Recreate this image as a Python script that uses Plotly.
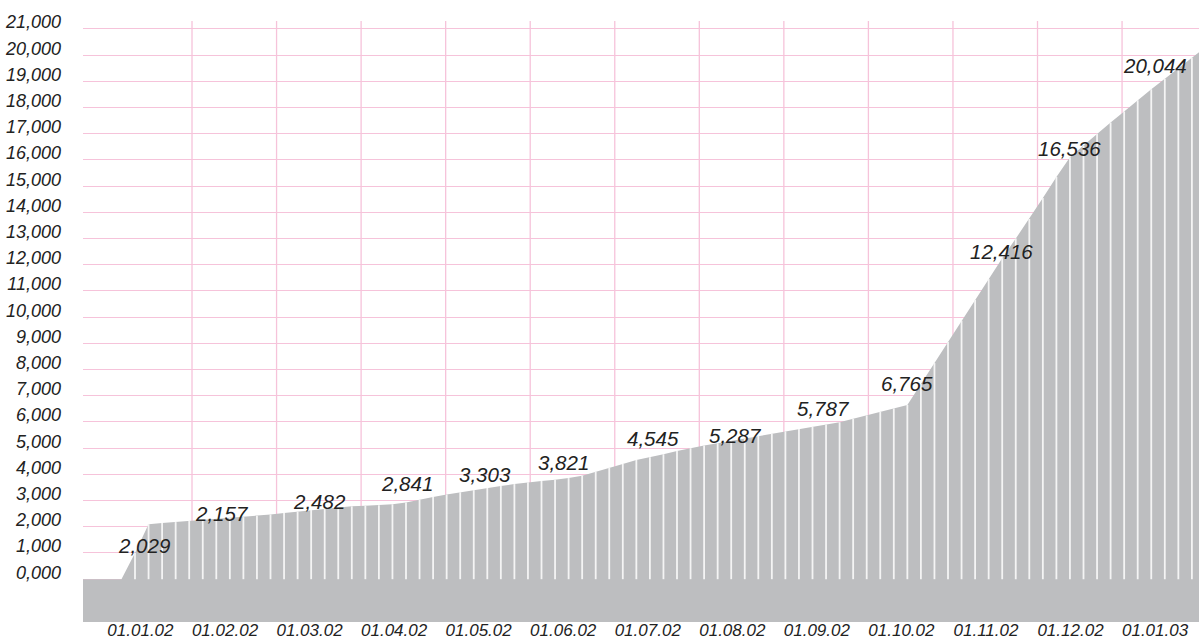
import plotly.graph_objects as go

# ---- data ----
# samples along the year (index of the striped bars); values in units
SAMPLE_IDX = list(range(-3, 81))
SAMPLE_VAL = [
    0, 0, 0, 0,            # i=-3..0
    1000, 2100, 2140, 2180, 2220, 2260, 2300, 2330, 2370,          # 1..9
    2420, 2470, 2530, 2580, 2640, 2700, 2750, 2780, 2800, 2820,    # 10..19
    2860, 2930, 3040, 3140, 3230, 3320, 3400, 3480, 3560, 3630,    # 20..29
    3700, 3750, 3800, 3860, 3950, 4110, 4260, 4400, 4550, 4650,    # 30..39
    4770, 4890, 5000, 5100, 5190, 5280, 5380, 5470, 5550, 5640,    # 40..49
    5730, 5820, 5900, 5990, 6120, 6250, 6390, 6520, 6650, 7450,    # 50..59
    8250, 9050, 9860, 10660, 11460, 12250, 13000, 13750, 14550, 15350,  # 60..69
    16100, 16550, 17000, 17430, 17850, 18280, 18700, 19100, 19500, 19900,  # 70..79
    20300,                 # 80
]

MONTH_LABELS = ["01.01.02", "01.02.02", "01.03.02", "01.04.02", "01.05.02",
                "01.06.02", "01.07.02", "01.08.02", "01.09.02", "01.10.02",
                "01.11.02", "01.12.02", "01.01.03"]
MONTH_VALUES = [2029, 2157, 2482, 2841, 3303, 3821, 4545, 5287, 5787, 6765,
                12416, 16536, 20044]

Y_TICKS = list(range(0, 22000, 1000))
Y_TICKTEXT = [f"{v // 1000},000" for v in Y_TICKS]

# ---- layout helpers ----
MONTH0 = -1.0332      # position of month 0 in sample-index units
MONTH_STEP = 6.2399   # samples per month
month_pos = [MONTH0 + MONTH_STEP * m for m in range(len(MONTH_LABELS))]

LABEL_DX = [37, 30, 43, 46, 39, 33, 38, 36, 40, 39, 49, 32, 33]
LABEL_DY = [-19, 9, 13, 21, 18, 17, 22, 5, 19, 18, 2, -3, -11]

GRAY = "#bdbec0"
PINK = "#f6c3da"
TEXT = "#222222"
FONT = "Liberation Sans"

fig = go.Figure()

# gray area (extends below zero to the bottom of the plot)
fig.add_trace(go.Scatter(
    x=SAMPLE_IDX + [SAMPLE_IDX[-1], SAMPLE_IDX[0]],
    y=SAMPLE_VAL + [-5000, -5000],
    fill="toself", fillcolor=GRAY, mode="lines",
    line=dict(width=0, color=GRAY), hoverinfo="skip", showlegend=False,
))

# white stripes between bars
sx, sy = [], []
for i, v in zip(SAMPLE_IDX, SAMPLE_VAL):
    if v > 0:
        sx += [i, i, None]
        sy += [0, v, None]
fig.add_trace(go.Scatter(
    x=sx, y=sy, mode="lines", line=dict(color="#f4f4f4", width=1.8),
    hoverinfo="skip", showlegend=False,
))

# vertical month gridlines
for m in range(1, len(MONTH_LABELS)):
    fig.add_shape(type="line", xref="x", yref="paper",
                  x0=month_pos[m], x1=month_pos[m], y0=0, y1=1,
                  line=dict(color=PINK, width=1.3), layer="below")

# value labels
for m, v in enumerate(MONTH_VALUES):
    fig.add_annotation(x=month_pos[m], y=v, text=f"{v:,}", showarrow=False,
                       xshift=LABEL_DX[m], yshift=LABEL_DY[m],
                       font=dict(family=FONT, size=20.5, color=TEXT, style="italic"))

fig.update_layout(
    width=1199, height=639,
    margin=dict(l=83, r=0, t=21, b=17),
    paper_bgcolor="white", plot_bgcolor="white",
    showlegend=False,
    xaxis=dict(range=[-2.838, 79.524], showgrid=False, zeroline=False,
               tickvals=month_pos, ticktext=MONTH_LABELS, ticks="",
               ticklabelshift=33, ticklabelstandoff=-4, automargin=False,
               tickfont=dict(family=FONT, size=17, color=TEXT, style="italic"),
               showline=False, fixedrange=True),
    yaxis=dict(range=[-1634, 21305], tickvals=Y_TICKS, ticktext=Y_TICKTEXT,
               showgrid=True, gridcolor=PINK, gridwidth=1.3, zeroline=False,
               ticks="", ticklabelshift=-7, ticklabelstandoff=21,
               automargin=False,
               tickfont=dict(family=FONT, size=18, color=TEXT, style="italic"),
               showline=False, fixedrange=True),
)

fig.write_html(
    "out.html",
    config={"displayModeBar": False},
    post_script="document.body.style.margin='0px';document.body.style.overflow='hidden';",
)
